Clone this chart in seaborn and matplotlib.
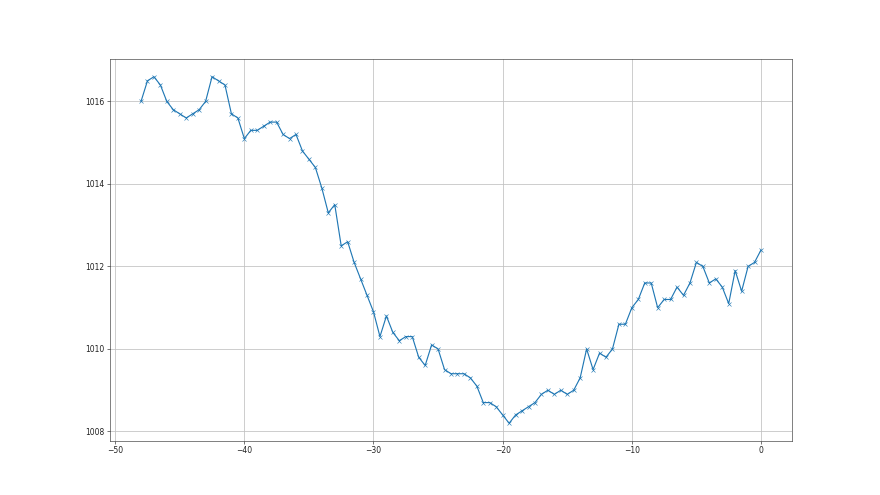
import numpy as np
import pandas as pd
import seaborn as sns
import matplotlib
matplotlib.use("Agg")
import matplotlib.pyplot as plt

# hours relative to now, every half hour
hours = np.arange(-48, 0.01, 0.5)

# pressure readings (hPa)
pressure = [
    1016.0, 1016.5, 1016.6, 1016.4, 1016.0, 1015.8, 1015.7, 1015.6, 1015.7, 1015.8,
    1016.0, 1016.6, 1016.5, 1016.4, 1015.7, 1015.6, 1015.1, 1015.3, 1015.3, 1015.4,
    1015.5, 1015.5, 1015.2, 1015.1, 1015.2, 1014.8, 1014.6, 1014.4, 1013.9, 1013.3,
    1013.5, 1012.5, 1012.6, 1012.1, 1011.7, 1011.3, 1010.9, 1010.3, 1010.8, 1010.4,
    1010.2, 1010.3, 1010.3, 1009.8, 1009.6, 1010.1, 1010.0, 1009.5, 1009.4, 1009.4,
    1009.4, 1009.3, 1009.1, 1008.7, 1008.7, 1008.6, 1008.4, 1008.2, 1008.4, 1008.5,
    1008.6, 1008.7, 1008.9, 1009.0, 1008.9, 1009.0, 1008.9, 1009.0, 1009.3, 1010.0,
    1009.5, 1009.9, 1009.8, 1010.0, 1010.6, 1010.6, 1011.0, 1011.2, 1011.6, 1011.6,
    1011.0, 1011.2, 1011.2, 1011.5, 1011.3, 1011.6, 1012.1, 1012.0, 1011.6, 1011.7,
    1011.5, 1011.1, 1011.9, 1011.4, 1012.0, 1012.1, 1012.4,
]

df = pd.DataFrame({"hours": hours, "pressure": pressure})

sns.set_style("ticks", {"axes.grid": True, "grid.color": "#c0c0c0",
                        "axes.edgecolor": "#333333"})
plt.rcParams["font.family"] = ["DejaVu Sans"]

fig, ax = plt.subplots(figsize=(16, 9), dpi=55)
sns.lineplot(data=df, x="hours", y="pressure", marker="x", color="#1f77b4",
             markeredgecolor="#1f77b4", markeredgewidth=0.8, markersize=6,
             linewidth=1.5, ax=ax)
ax.set_xlabel("")
ax.set_ylabel("")
ax.tick_params(labelsize=10, colors="#222222")
ax.grid(True, linewidth=1.0)

fig.savefig("out.png", dpi=55)
